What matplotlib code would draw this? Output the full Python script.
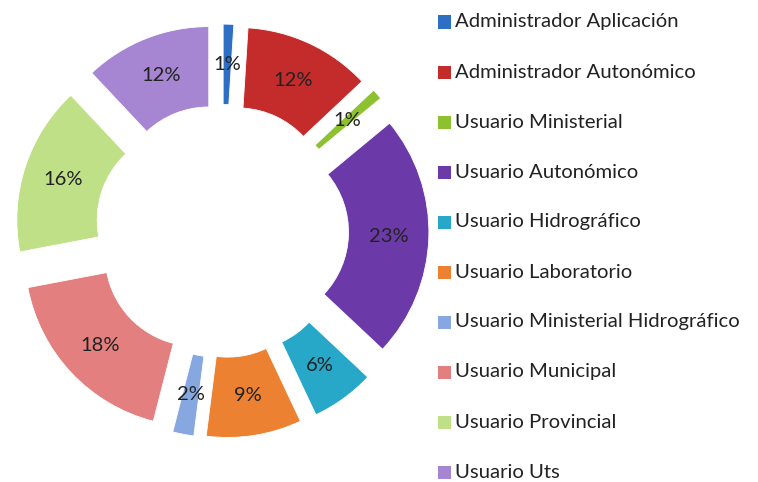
import matplotlib
matplotlib.use('Agg')
import matplotlib.pyplot as plt
from matplotlib.patches import Rectangle

labels = ['Administrador Aplicación', 'Administrador Autonómico', 'Usuario Ministerial',
          'Usuario Autonómico', 'Usuario Hidrográfico', 'Usuario Laboratorio',
          'Usuario Ministerial Hidrográfico', 'Usuario Municipal', 'Usuario Provincial',
          'Usuario Uts']
values = [1, 12, 1, 23, 6, 9, 2, 18, 16, 12]
colors = ['#2E6FC6', '#C42B2B', '#8DC12F', '#6B3AA8', '#27A8C8', '#EC8231',
          '#86A7E0', '#E37F7E', '#C0E087', '#A686D2']

plt.rcParams['font.family'] = ['Lato', 'DejaVu Sans']

W, H = 758, 482
fig = plt.figure(figsize=(W / 100, H / 100), dpi=100)

# donut centre (pixels) and outer radius
cx, cy, r = 222, 231, 171
half = 1.26 * r
ax = fig.add_axes([(cx - half) / W, (H - cy - half) / H, 2 * half / W, 2 * half / H])

wedges, texts, autotexts = ax.pie(
    values, colors=colors, startangle=90, counterclock=False,
    explode=[0.21] * len(values), radius=1.0,
    autopct='%d%%', pctdistance=0.765,
    wedgeprops=dict(width=0.47, edgecolor='white', linewidth=0.6),
    textprops=dict(fontsize=14.5, color='#222222'))
ax.set_xlim(-1.26, 1.26)
ax.set_ylim(-1.26, 1.26)
ax.set_aspect('equal')
ax.axis('off')

# legend on the right
for i, (lab, col) in enumerate(zip(labels, colors)):
    yc = 22 + 50 * i
    fig.patches.append(Rectangle((438 / W, (H - yc - 6.5) / H), 12.5 / W, 13 / H,
                                 transform=fig.transFigure, facecolor=col,
                                 edgecolor='none'))
    fig.text(455 / W, (H - yc) / H, lab, fontsize=14.6, color='#222222',
             va='center', ha='left')

fig.savefig('out.png', dpi=100)
